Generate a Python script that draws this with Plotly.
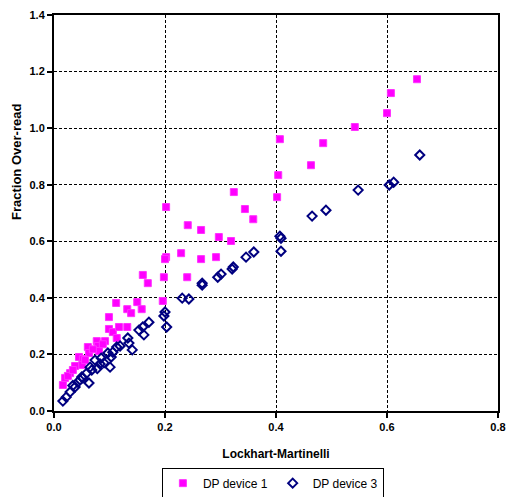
import plotly.graph_objects as go

# Lockhart-Martinelli parameter vs fraction over-read for two DP meters
dev1_x = [0.654, 0.607, 0.600, 0.542, 0.407, 0.485, 0.463, 0.404, 0.402, 0.324,
          0.202, 0.344, 0.359, 0.241, 0.265, 0.297, 0.319, 0.229, 0.202, 0.200,
          0.265, 0.292, 0.160, 0.169, 0.198, 0.240, 0.196, 0.158, 0.112, 0.150,
          0.132, 0.139, 0.099, 0.099, 0.106, 0.117, 0.132, 0.113, 0.077, 0.092,
          0.079, 0.061, 0.081, 0.063, 0.045, 0.052, 0.038, 0.051, 0.029, 0.020,
          0.016, 0.025, 0.070, 0.088, 0.056, 0.034]
dev1_y = [1.173, 1.124, 1.053, 1.004, 0.961, 0.947, 0.869, 0.834, 0.756, 0.774,
          0.721, 0.714, 0.678, 0.657, 0.640, 0.615, 0.601, 0.558, 0.544, 0.537,
          0.537, 0.544, 0.481, 0.452, 0.473, 0.473, 0.389, 0.360, 0.382, 0.385,
          0.360, 0.346, 0.332, 0.290, 0.279, 0.297, 0.297, 0.258, 0.247, 0.247,
          0.230, 0.226, 0.212, 0.205, 0.191, 0.184, 0.159, 0.163, 0.134, 0.117,
          0.092, 0.124, 0.218, 0.236, 0.180, 0.145]

dev3_x = [0.659, 0.612, 0.604, 0.548, 0.490, 0.465, 0.407, 0.409, 0.409, 0.360,
          0.346, 0.323, 0.321, 0.301, 0.295, 0.267, 0.267, 0.243, 0.231, 0.200,
          0.198, 0.203, 0.171, 0.160, 0.162, 0.153, 0.133, 0.135, 0.141, 0.119,
          0.113, 0.106, 0.097, 0.103, 0.101, 0.083, 0.085, 0.074, 0.065, 0.068,
          0.059, 0.063, 0.052, 0.043, 0.038, 0.029, 0.022, 0.016, 0.050, 0.090,
          0.078, 0.047, 0.034]
dev3_y = [0.905, 0.809, 0.799, 0.781, 0.710, 0.689, 0.618, 0.611, 0.565, 0.562,
          0.544, 0.509, 0.502, 0.484, 0.473, 0.445, 0.452, 0.396, 0.399, 0.350,
          0.336, 0.297, 0.314, 0.297, 0.269, 0.286, 0.258, 0.240, 0.216, 0.230,
          0.226, 0.208, 0.205, 0.191, 0.155, 0.166, 0.187, 0.180, 0.155, 0.145,
          0.134, 0.099, 0.117, 0.102, 0.085, 0.067, 0.049, 0.035, 0.120, 0.170,
          0.150, 0.110, 0.090]

x_ticks = [0.0, 0.2, 0.4, 0.6, 0.8]
y_ticks = [0.0, 0.2, 0.4, 0.6, 0.8, 1.0, 1.2, 1.4]

FONT = "Arial, Liberation Sans, sans-serif"

fig = go.Figure()
fig.add_trace(go.Scatter(
    x=dev1_x, y=dev1_y, mode="markers", name="DP device 1",
    marker=dict(symbol="square", size=7, color="#FF00FF",
                line=dict(color="#FF33FF", width=1)),
))
fig.add_trace(go.Scatter(
    x=dev3_x, y=dev3_y, mode="markers", name="DP device 3",
    marker=dict(symbol="diamond-open", size=7, color="#000080",
                line=dict(color="#000080", width=2)),
))

axis_common = dict(
    showline=True, linecolor="black", linewidth=2, mirror=True,
    ticks="outside", ticklen=5, tickwidth=2, tickcolor="black",
    showgrid=True, gridcolor="black", gridwidth=1, griddash="3px,2px",
    zeroline=False,
    tickfont=dict(family=FONT, size=11, color="black", weight="bold"),
)

fig.update_xaxes(range=[0, 0.8], tickvals=x_ticks, tickformat=".1f",
                 title=dict(text="Lockhart-Martinelli", standoff=17,
                            font=dict(family=FONT, size=12, color="black",
                                      weight="bold")),
                 **axis_common)
fig.update_yaxes(range=[0, 1.4], tickvals=y_ticks, tickformat=".1f",
                 **axis_common)

fig.add_annotation(
    text="<b>Fraction Over-read</b>", textangle=-90, showarrow=False,
    xref="paper", yref="paper", x=-0.085, y=0.478,
    xanchor="center", yanchor="bottom",
    font=dict(family=FONT, size=13, color="black"),
)

fig.update_layout(
    width=508, height=497,
    margin=dict(l=54, r=10, t=15, b=86, autoexpand=False),
    paper_bgcolor="white", plot_bgcolor="white",
    showlegend=True,
    legend=dict(orientation="h", x=0.493, xanchor="center", y=-0.143,
                yanchor="top", bordercolor="black", borderwidth=1,
                font=dict(family=FONT, size=12, color="black"),
                itemwidth=30, tracegroupgap=0),
)

fig.write_html("out.html")
